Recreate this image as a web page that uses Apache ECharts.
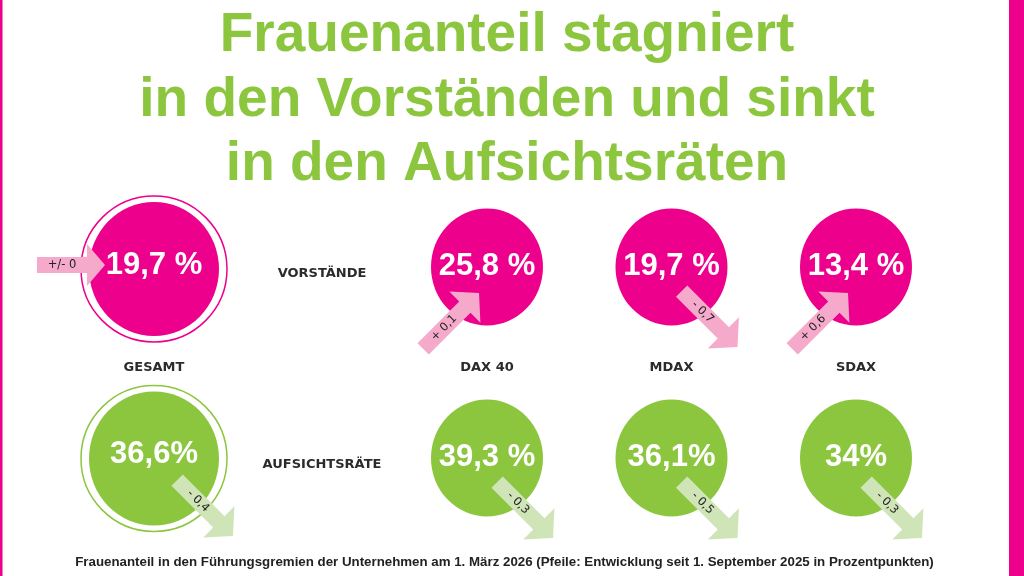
<!DOCTYPE html>
<html><head><meta charset="utf-8">
<script src="https://cdn.jsdelivr.net/npm/echarts@6/dist/echarts.min.js"></script>
<style>html,body{margin:0;padding:0;background:#fff}#c{width:1024px;height:576px}</style>
</head><body><div id="c"></div>
<script>
// ---- data ----
const columns = ['GESAMT', 'DAX 40', 'MDAX', 'SDAX'];
const rows = ['VORSTÄNDE', 'AUFSICHTSRÄTE'];
const vorstaende = [19.7, 25.8, 19.7, 13.4];
const aufsichtsraete = [36.6, 39.3, 36.1, 34];
const vorstaendeLabels = ['19,7 %', '25,8 %', '19,7 %', '13,4 %'];
const aufsichtsraeteLabels = ['36,6%', '39,3 %', '36,1%', '34%'];
const vorstaendeChange = [0, 0.1, -0.7, 0.6];
const aufsichtsraeteChange = [-0.4, -0.3, -0.5, -0.3];
const titleLines = ['Frauenanteil stagniert', 'in den Vorständen und sinkt', 'in den Aufsichtsräten'];
const footnote = 'Frauenanteil in den Führungsgremien der Unternehmen am 1. März 2026 (Pfeile: Entwicklung seit 1. September 2025 in Prozentpunkten)';

// ---- styles ----
const MAGENTA = '#EC008C', GREEN = '#8CC63F', PINK_LIGHT = '#F5AACB', GREEN_LIGHT = '#CFE5B7';
const rowColors = [MAGENTA, GREEN], arrowColors = [PINK_LIGHT, GREEN_LIGHT];
const values = [vorstaende, aufsichtsraete];
const labels = [vorstaendeLabels, aufsichtsraeteLabels];
const changes = [vorstaendeChange, aufsichtsraeteChange];

function fmtChange(v) {
  if (v === 0) return '+/- 0';
  return (v > 0 ? '+ ' : '- ') + Math.abs(v).toFixed(1).replace('.', ',');
}

function arrowRenderer(isGesamt) {
  return function (params, api) {
    const col = api.value(0), row = api.value(1), ch = api.value(2);
    const c = api.coord([col, row]);
    const shaftHalf = 8;
    let tip, dir, len, headLen, headHalf;
    if (ch === 0) {
      tip = [c[0] - 49, c[1] - 4]; dir = [1, 0]; len = 68; headLen = 18; headHalf = 21;
    } else if (ch > 0) {
      tip = [c[0] - 8, c[1] + 26]; dir = [Math.SQRT1_2, -Math.SQRT1_2]; len = 79; headLen = 20; headHalf = 22;
    } else {
      const o = isGesamt ? [79, 77.5] : [66, 80];
      tip = [c[0] + o[0], c[1] + o[1]]; dir = [Math.SQRT1_2, Math.SQRT1_2]; len = 79; headLen = 20; headHalf = 22;
    }
    const n = [-dir[1], dir[0]];
    const tail = [tip[0] - dir[0] * len, tip[1] - dir[1] * len];
    const sl = len - headLen;
    const P = (a, b) => [tail[0] + dir[0] * a + n[0] * b, tail[1] + dir[1] * a + n[1] * b];
    const pts = [P(0, -shaftHalf), P(sl, -shaftHalf), P(sl, -headHalf), P(len, 0), P(sl, headHalf), P(sl, shaftHalf), P(0, shaftHalf)];
    const mid = P(sl / 2, 0);
    return {
      type: 'group',
      children: [
        { type: 'polygon', shape: { points: pts }, style: { fill: arrowColors[row] } },
        {
          type: 'text', x: mid[0], y: mid[1], rotation: -Math.atan2(dir[1], dir[0]),
          style: { text: fmtChange(ch), fill: '#222', font: '11.5px "DejaVu Sans"', align: 'center', verticalAlign: 'middle' }
        }
      ]
    };
  };
}

const gesamtFill = [], gesamtRing = [], indexCircles = [], gesamtArrows = [], indexArrows = [];
for (let r = 0; r < rows.length; r++) {
  gesamtRing.push({ value: [0, r], itemStyle: { color: '#fff', borderColor: rowColors[r], borderWidth: 1.5, opacity: 1 } });
  gesamtFill.push({ value: [0, r, values[r][0]], name: labels[r][0], itemStyle: { color: rowColors[r], opacity: 1 } });
  gesamtArrows.push([0, r, changes[r][0]]);
  for (let i = 1; i < columns.length; i++) {
    indexCircles.push({ value: [i - 1, r, values[r][i]], name: labels[r][i], itemStyle: { color: rowColors[r], opacity: 1 } });
    indexArrows.push([i - 1, r, changes[r][i]]);
  }
}

const labelFont = { fontFamily: 'DejaVu Sans', fontWeight: 'bold', fontSize: 13, color: '#2b2b2b' };
const valueLabel = { show: true, position: 'inside', color: '#fff', fontFamily: 'Liberation Sans', fontWeight: 'bold', fontSize: 31, formatter: p => p.name };

const chart = echarts.init(document.getElementById('c'), null, { renderer: 'canvas' });
chart.setOption({
  animation: false,
  backgroundColor: '#fff',
  title: [
    { text: titleLines.join('\n'), left: 507, top: 4, textAlign: 'center', padding: 0,
      textStyle: { fontFamily: 'Liberation Sans', fontWeight: 'bold', fontSize: 55, lineHeight: 64.5, color: GREEN } },
    { text: footnote, left: 504.5, top: 554, textAlign: 'center', padding: 0,
      textStyle: { fontFamily: 'Liberation Sans', fontWeight: 'bold', fontSize: 13.3, lineHeight: 16, color: '#222' } }
  ],
  graphic: [
    { type: 'rect', shape: { x: 0, y: 0, width: 2.5, height: 576 }, style: { fill: MAGENTA } },
    { type: 'rect', shape: { x: 1009, y: 0, width: 15, height: 576 }, style: { fill: MAGENTA } }
  ],
  grid: [
    { left: 80, top: 174.25, width: 148, height: 379, outerBoundsMode: 'none' },
    { left: 394.75, top: 171.5, width: 553.5, height: 382, outerBoundsMode: 'none' }
  ],
  xAxis: [
    { gridIndex: 0, type: 'category', data: [columns[0]], position: 'bottom', offset: -185.5,
      axisLine: { show: false }, axisTick: { show: false }, splitLine: { show: false },
      axisLabel: Object.assign({ margin: 0, verticalAlign: 'middle' }, labelFont) },
    { gridIndex: 1, type: 'category', data: columns.slice(1), position: 'bottom', offset: -185.5,
      axisLine: { show: false }, axisTick: { show: false }, splitLine: { show: false },
      axisLabel: Object.assign({ margin: 0, verticalAlign: 'middle' }, labelFont) }
  ],
  yAxis: [
    { gridIndex: 0, type: 'category', data: rows, inverse: true,
      axisLine: { show: false }, axisTick: { show: false }, axisLabel: { show: false }, splitLine: { show: false } },
    { gridIndex: 1, type: 'category', data: rows, inverse: true,
      axisLine: { show: false }, axisTick: { show: false }, splitLine: { show: false },
      axisLabel: Object.assign({ align: 'center', margin: 72.75, verticalAlign: 'top' }, labelFont) }
  ],
  series: [
    { type: 'scatter', xAxisIndex: 0, yAxisIndex: 0, symbol: 'circle', symbolSize: [146, 146], data: gesamtRing, z: 1, silent: true },
    { type: 'scatter', xAxisIndex: 0, yAxisIndex: 0, symbol: 'circle', symbolSize: [130, 134], data: gesamtFill, z: 2, silent: true,
      label: Object.assign({ offset: [0, -4] }, valueLabel) },
    { type: 'scatter', xAxisIndex: 1, yAxisIndex: 1, symbol: 'circle', symbolSize: [112, 117], data: indexCircles, z: 2, silent: true,
      label: Object.assign({ offset: [0, -1] }, valueLabel) },
    { type: 'custom', xAxisIndex: 0, yAxisIndex: 0, data: gesamtArrows, renderItem: arrowRenderer(true), z: 3, silent: true },
    { type: 'custom', xAxisIndex: 1, yAxisIndex: 1, data: indexArrows, renderItem: arrowRenderer(false), z: 3, silent: true }
  ]
});
</script></body></html>
